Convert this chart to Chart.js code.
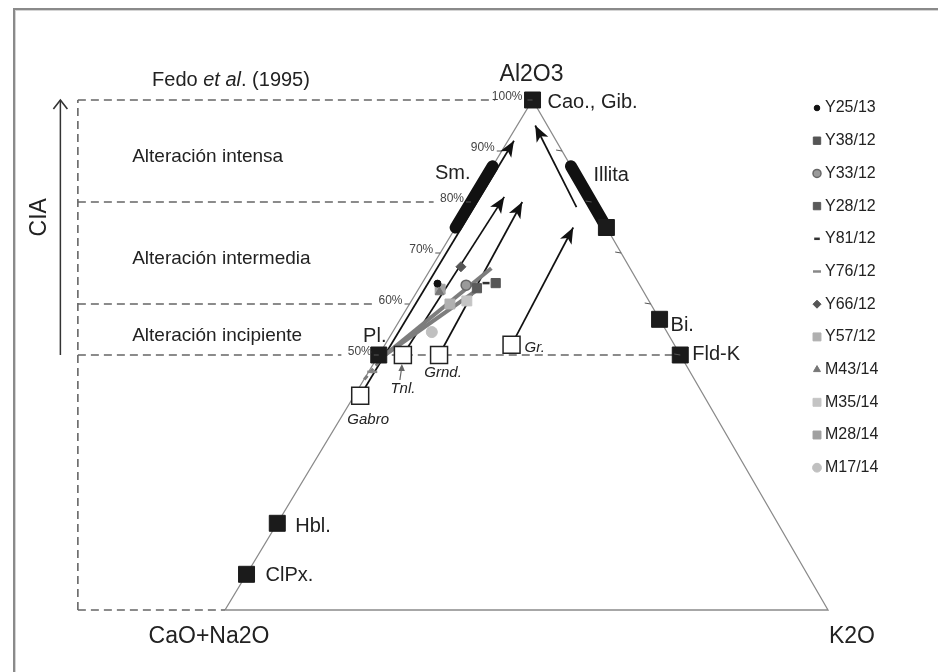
<!DOCTYPE html>
<html>
<head>
<meta charset="utf-8">
<script src="https://cdn.jsdelivr.net/npm/chart.js@4.4.0/dist/chart.umd.min.js"></script>
<style>
  html, body { margin: 0; padding: 0; background: #fff; }
  canvas { display: block; }
</style>
</head>
<body>
<canvas id="acnk" width="938" height="672"></canvas>
<script>
(() => {
  // ---- data (compositions in %, A = Al2O3, CN = CaO+Na2O, K = K2O) ----
  const cornerLabels = ['Al2O3', 'CaO+Na2O', 'K2O'];

  const ciaTicks = [50, 60, 70, 80, 90, 100];
  const ciaBounds = [100, 80, 60, 50];
  const zoneLabels = ['Alteración intensa', 'Alteración intermedia', 'Alteración incipiente'];

  const mineralNames = ['Cao., Gib.', 'Illita', 'Bi.', 'Fld-K', 'Pl.', 'Hbl.', 'ClPx.'];
  const mineralA = [100, 75, 57, 50, 50, 17, 7];
  const mineralCN = [0, 0, 0, 0, 50, 83, 93];
  const mineralK = [0, 25, 43, 50, 0, 0, 0];

  const rockNames = ['Gabro', 'Tnl.', 'Grnd.', 'Gr.'];
  const rockA = [42, 50, 50, 52];
  const rockCN = [57, 46, 40, 27];
  const rockK = [1, 4, 10, 21];

  // weathering trends (start -> arrow tip)
  const trendStartA = [42, 50, 50, 52, 79];
  const trendStartCN = [57, 46, 40, 27, 3];
  const trendStartK = [1, 4, 10, 21, 18];
  const trendEndA = [92, 81, 80, 75, 95];
  const trendEndCN = [7, 14, 11.5, 5.5, 2];
  const trendEndK = [1, 5, 8.5, 19.5, 3];

  // clay fields on the edges (A range)
  const smectiteA = [75, 87];
  const illiteA = [75, 87];

  // grey sample trends
  const fitStartA = [50, 50, 50];
  const fitStartK = [1, 1, 1];
  const fitEndA = [67, 63, 45];
  const fitEndK = [10, 10, 0];

  const sampleNames = ['Y25/13', 'Y38/12', 'Y33/12', 'Y28/12', 'Y81/12', 'Y76/12',
    'Y66/12', 'Y57/12', 'M43/14', 'M35/14', 'M28/14', 'M17/14'];
  const sampleA = [64.0, 64.1, 63.7, 63.1, 64.1, 46.7, 67.3, 60.0, 62.3, 60.6, 62.9, 54.5];
  const sampleCN = [33.4, 23.7, 28.8, 27.3, 25.3, 52.7, 27.9, 33.3, 33.9, 30.2, 33.5, 39.0];
  const sampleK = [2.6, 12.2, 7.5, 9.6, 10.6, 0.6, 4.8, 6.7, 3.8, 9.2, 3.6, 6.5];

  // ---- styles / layout ----
  const FONT = '"Liberation Sans", Arial, sans-serif';
  const APEX_X = 0.51;       // apex sits a bit right of centre in the drawing
  const CIA_BOX_X = -0.244;  // left dashed frame
  const CIA_ARROW_X = -0.273;
  const LABEL_GAP = 0.062;

  const sampleStyle = [
    { pointStyle: 'circle', radius: 3.5, bg: '#111', border: '#111', bw: 1 },
    { pointStyle: 'rect', radius: 6.5, bg: '#555', border: '#555', bw: 1 },
    { pointStyle: 'circle', radius: 5, bg: '#9a9a9a', border: '#666', bw: 1.5 },
    { pointStyle: 'rect', radius: 6.5, bg: '#5a5a5a', border: '#5a5a5a', bw: 1 },
    { pointStyle: 'line', radius: 3.5, bg: '#333', border: '#333', bw: 2.5 },
    { pointStyle: 'line', radius: 5, bg: '#888', border: '#888', bw: 2.5 },
    { pointStyle: 'rectRot', radius: 5, bg: '#555', border: '#555', bw: 1 },
    { pointStyle: 'rect', radius: 7, bg: '#b0b0b0', border: '#b0b0b0', bw: 1 },
    { pointStyle: 'triangle', radius: 5, bg: '#777', border: '#777', bw: 1 },
    { pointStyle: 'rect', radius: 7, bg: '#c4c4c4', border: '#c4c4c4', bw: 1 },
    { pointStyle: 'rect', radius: 7, bg: '#a0a0a0', border: '#a0a0a0', bw: 1 },
    { pointStyle: 'circle', radius: 5.5, bg: '#c0c0c0', border: '#c0c0c0', bw: 1 }
  ];

  const labelLayout = {
    'Cao., Gib.': { dx: 15, dy: 2, align: 'left' },
    'Illita': { dx: -13, dy: -52, align: 'left' },
    'Bi.': { dx: 11, dy: 6, align: 'left' },
    'Fld-K': { dx: 12, dy: -1, align: 'left' },
    'Pl.': { dx: -4, dy: -19, align: 'center' },
    'Hbl.': { dx: 18, dy: 3, align: 'left' },
    'ClPx.': { dx: 19, dy: 1, align: 'left' },
    'Gabro': { dx: 8, dy: 24, align: 'center' },
    'Tnl.': { dx: 0, dy: 34, align: 'center' },
    'Grnd.': { dx: 4, dy: 18, align: 'center' },
    'Gr.': { dx: 13, dy: 3, align: 'left' },
    'Sm.': { dx: -22, dy: 7, align: 'right' }
  };

  function tern(a, cn, k) {
    const s = a + cn + k;
    return { x: (k + APEX_X * a) / s, y: a / s };
  }
  const leftEdge = (a) => tern(a, 100 - a, 0);
  const rightEdge = (a) => tern(a, 0, 100 - a);

  function line(points, style) {
    return Object.assign({
      type: 'scatter', data: points, showLine: true, pointRadius: 0,
      clip: false, fill: false, tension: 0, borderWidth: 1.5, borderColor: '#222'
    }, style);
  }

  const datasets = [];

  // triangle
  datasets.push(line([tern(0, 100, 0), tern(100, 0, 0), tern(0, 0, 100), tern(0, 100, 0)],
    { borderColor: '#8a8a8a', borderWidth: 1.3, order: 9 }));

  // CIA dashed frame
  const dash = { borderColor: '#666', borderWidth: 1.6, borderDash: [8, 5], order: 8 };
  datasets.push(line([{ x: CIA_BOX_X, y: 0 }, { x: CIA_BOX_X, y: 1 }], dash));
  ciaBounds.forEach((b) => {
    const e = leftEdge(b);
    datasets.push(line([{ x: CIA_BOX_X, y: b / 100 }, { x: e.x - LABEL_GAP, y: e.y }], dash));
  });
  datasets.push(line([{ x: CIA_BOX_X, y: 0 }, tern(0, 100, 0)], dash));
  datasets.push(line([leftEdge(50), rightEdge(50)], dash));

  // CIA arrow
  datasets.push(line([{ x: CIA_ARROW_X, y: Math.min(...ciaBounds) / 100 }, { x: CIA_ARROW_X, y: 1 }],
    { borderColor: '#333', borderWidth: 1.5, arrowHead: 'open', order: 8 }));

  // clay fields
  datasets.push(line(smectiteA.map(leftEdge), { borderColor: '#111', borderWidth: 12, borderCapStyle: 'round', order: 7 }));
  datasets.push(line(illiteA.map(rightEdge), { borderColor: '#111', borderWidth: 12, borderCapStyle: 'round', order: 7 }));

  // weathering arrows
  trendStartA.forEach((_, i) => {
    datasets.push(line([
      tern(trendStartA[i], trendStartCN[i], trendStartK[i]),
      tern(trendEndA[i], trendEndCN[i], trendEndK[i])
    ], { borderColor: '#111', borderWidth: 1.7, arrowHead: 'filled', order: 6 }));
  });

  // grey sample trends
  fitStartA.forEach((_, i) => {
    const a0 = fitStartA[i], k0 = fitStartK[i], a1 = fitEndA[i], k1 = fitEndK[i];
    datasets.push(line([tern(a0, 100 - a0 - k0, k0), tern(a1, 100 - a1 - k1, k1)], {
      borderColor: '#7d7d7d', borderWidth: i < 2 ? 4 : 3, borderDash: i < 2 ? [] : [5, 4], order: 5
    }));
  });

  // samples
  sampleNames.forEach((name, i) => {
    const st = sampleStyle[i];
    datasets.push({
      type: 'scatter', label: name, sample: true, clip: false, order: 3,
      data: [tern(sampleA[i], sampleCN[i], sampleK[i])],
      pointStyle: st.pointStyle, pointRadius: st.radius,
      backgroundColor: st.bg, borderColor: st.border, borderWidth: st.bw
    });
  });

  // minerals
  datasets.push({
    type: 'scatter', label: 'minerals', clip: false, order: 2,
    data: mineralNames.map((_, i) => tern(mineralA[i], mineralCN[i], mineralK[i])),
    pointStyle: 'rect', pointRadius: 11.3, backgroundColor: '#1b1b1b', borderColor: '#1b1b1b', borderWidth: 1
  });

  // parent rocks
  datasets.push({
    type: 'scatter', label: 'rocks', clip: false, order: 1,
    data: rockNames.map((_, i) => tern(rockA[i], rockCN[i], rockK[i])),
    pointStyle: 'rect', pointRadius: 12, backgroundColor: '#fff', borderColor: '#222', borderWidth: 1.5
  });

  function head(ctx, from, to, kind) {
    const ang = Math.atan2(to.y - from.y, to.x - from.x);
    ctx.save();
    ctx.translate(to.x, to.y);
    ctx.rotate(ang);
    ctx.beginPath();
    if (kind === 'open') {
      ctx.moveTo(-9, -7); ctx.lineTo(0, 0); ctx.lineTo(-9, 7);
      ctx.lineWidth = 1.6; ctx.strokeStyle = '#333'; ctx.stroke();
    } else {
      ctx.moveTo(0, 0); ctx.lineTo(-16, -6.5); ctx.lineTo(-12, 0); ctx.lineTo(-16, 6.5);
      ctx.closePath(); ctx.fillStyle = '#111'; ctx.fill();
    }
    ctx.restore();
  }

  function text(ctx, str, x, y, font, align, color) {
    ctx.font = font;
    ctx.textAlign = align || 'left';
    ctx.textBaseline = 'middle';
    ctx.fillStyle = color || '#222';
    ctx.fillText(str, x, y);
  }

  const decor = {
    id: 'decor',
    beforeDraw(chart) {
      const { ctx, width, height } = chart;
      ctx.save();
      ctx.fillStyle = '#fff';
      ctx.fillRect(0, 0, width, height);
      ctx.fillStyle = '#8a8a8a';
      ctx.fillRect(13, 8, width - 13, 2);
      ctx.fillRect(13, 8, 2, height - 8);
      ctx.fillStyle = '#d4d4d4';
      ctx.fillRect(15, 10, width - 15, 1);
      ctx.fillRect(15, 10, 1, height - 10);
      ctx.restore();
    },
    afterDatasetsDraw(chart) {
      const { ctx } = chart;
      const xs = chart.scales.x, ys = chart.scales.y;
      const px = (p) => ({ x: xs.getPixelForValue(p.x), y: ys.getPixelForValue(p.y) });
      ctx.save();

      // arrow heads
      chart.data.datasets.forEach((ds, i) => {
        if (!ds.arrowHead) return;
        const pts = chart.getDatasetMeta(i).data;
        head(ctx, pts[pts.length - 2], pts[pts.length - 1], ds.arrowHead);
      });

      // edge ticks and CIA percentages
      ctx.strokeStyle = '#555';
      ctx.lineWidth = 1;
      ciaTicks.forEach((t) => {
        const p = px(leftEdge(t));
        ctx.beginPath(); ctx.moveTo(p.x - 5, p.y); ctx.lineTo(p.x, p.y); ctx.stroke();
        text(ctx, t + '%', p.x - (t === 100 ? 10 : 7), p.y - 3, '12px ' + FONT, 'right', '#444');
        if (t < 100) {
          const q = px(rightEdge(t));
          ctx.beginPath(); ctx.moveTo(q.x - 6, q.y - 1); ctx.lineTo(q.x, q.y); ctx.stroke();
        }
      });

      // mineral labels
      const lab = (name, p, font) => {
        const l = labelLayout[name];
        text(ctx, name, p.x + l.dx, p.y + l.dy, font, l.align, '#222');
      };
      mineralNames.forEach((n, i) => lab(n, px(tern(mineralA[i], mineralCN[i], mineralK[i])), '20px ' + FONT));
      lab('Sm.', px(leftEdge(smectiteA[1])), '20px ' + FONT);
      rockNames.forEach((n, i) => lab(n, px(tern(rockA[i], rockCN[i], rockK[i])), 'italic 15px ' + FONT));

      // small pointer from Tnl. label to its square
      const tn = px(tern(rockA[1], rockCN[1], rockK[1]));
      ctx.strokeStyle = '#666'; ctx.lineWidth = 1.2;
      ctx.beginPath(); ctx.moveTo(tn.x - 3, tn.y + 25); ctx.lineTo(tn.x - 1, tn.y + 11); ctx.stroke();
      ctx.fillStyle = '#666';
      ctx.beginPath(); ctx.moveTo(tn.x - 1, tn.y + 9); ctx.lineTo(tn.x - 4.5, tn.y + 16); ctx.lineTo(tn.x + 2, tn.y + 16); ctx.closePath(); ctx.fill();

      // corner labels
      const apex = px(tern(100, 0, 0)), cnC = px(tern(0, 100, 0)), kC = px(tern(0, 0, 100));
      text(ctx, cornerLabels[0], apex.x - 1, apex.y - 25, '23px ' + FONT, 'center', '#222');
      text(ctx, cornerLabels[1], cnC.x - 16, cnC.y + 27, '23px ' + FONT, 'center', '#222');
      text(ctx, cornerLabels[2], kC.x + 24, kC.y + 27, '23px ' + FONT, 'center', '#222');

      // CIA zones
      const zx = xs.getPixelForValue(-0.154);
      zoneLabels.forEach((z, i) => {
        const mid = (ciaBounds[i] + ciaBounds[i + 1]) / 200;
        text(ctx, z, zx, ys.getPixelForValue(mid) + 6, '19px ' + FONT, 'left', '#222');
      });

      // Fedo et al. (1995)
      let fx = xs.getPixelForValue(-0.121);
      const fy = ys.getPixelForValue(1) - 20;
      [['Fedo ', ''], ['et al', 'italic '], ['. (1995)', '']].forEach(([s, st]) => {
        const f = st + '20px ' + FONT;
        text(ctx, s, fx, fy, f, 'left', '#222');
        fx += ctx.measureText(s).width;
      });

      // CIA axis title
      ctx.save();
      ctx.translate(xs.getPixelForValue(CIA_ARROW_X) - 21, ys.getPixelForValue(0.77));
      ctx.rotate(-Math.PI / 2);
      text(ctx, 'CIA', 0, 0, '23px ' + FONT, 'center', '#222');
      ctx.restore();

      // legend
      const helpers = Chart.helpers;
      chart.data.datasets.filter((d) => d.sample).forEach((d, i) => {
        const y = 108 + i * 32.7;
        ctx.fillStyle = d.backgroundColor;
        ctx.strokeStyle = d.borderColor;
        ctx.lineWidth = d.borderWidth;
        helpers.drawPoint(ctx, { pointStyle: d.pointStyle, rotation: 0, radius: d.pointRadius * 0.8, borderWidth: d.borderWidth }, 817, y);
        text(ctx, d.label, 825, y, '16px ' + FONT, 'left', '#222');
      });

      ctx.restore();
    }
  };

  new Chart(document.getElementById('acnk'), {
    type: 'scatter',
    data: { datasets },
    options: {
      responsive: false,
      animation: false,
      events: [],
      layout: { padding: { left: 225, right: 110, top: 100, bottom: 62 } },
      scales: {
        x: { type: 'linear', min: 0, max: 1, display: false },
        y: { type: 'linear', min: 0, max: 1, display: false }
      },
      plugins: { legend: { display: false }, tooltip: { enabled: false } }
    },
    plugins: [decor]
  });
})();
</script>
</body>
</html>
